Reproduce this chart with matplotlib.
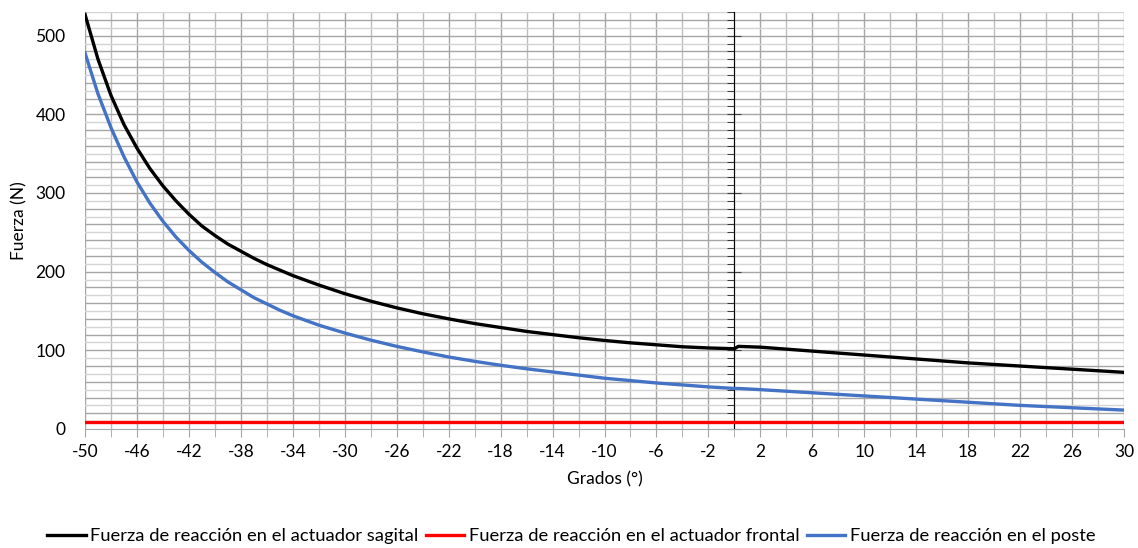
import matplotlib.pyplot as plt
from matplotlib.ticker import MultipleLocator

# angles (degrees) and forces (N)
grados = [-50, -49, -48, -47, -46, -45, -44, -43, -42, -41, -40, -39, -38, -37, -36, -35, -34,
          -32, -30, -28, -26, -24, -22, -20, -18, -16, -14, -12, -10, -8, -6, -4, -2, 0,
          0.3, 2, 4, 6, 8, 10, 12, 14, 16, 18, 20, 22, 24, 26, 28, 30]

sagital = [527, 470, 424, 387, 357, 331, 309, 290, 273, 258, 246, 235, 226, 217, 209, 202, 195,
           183, 172, 162.5, 154, 146.5, 140, 134, 129, 124, 120, 116, 112.5, 109.5, 107, 104.5, 103, 102,
           105, 104, 101.5, 99, 96.5, 94, 91.5, 89, 86.5, 84, 82, 80, 78, 76, 74, 72]

frontal = [9] * len(grados)

poste = [478, 426, 383, 346, 314, 287, 264, 244, 227, 212, 199, 187, 177, 167, 159, 151, 144,
         132, 122, 113, 105, 98, 91.5, 86, 81, 76.5, 72.5, 68.5, 64.5, 61.5, 58.5, 56, 53.5, 51.5,
         51.5, 50, 48, 46, 44, 42, 40, 38, 36, 34, 32, 30, 28.5, 27, 25.5, 24]

etiquetas_x = [-50, -46, -42, -38, -34, -30, -26, -22, -18, -14, -10, -6, -2,
               2, 6, 10, 14, 18, 22, 26, 30]

plt.rcParams['font.family'] = ['Lato', 'DejaVu Sans']

fig = plt.figure(figsize=(11.38, 5.48), dpi=100)
ax = fig.add_axes([0.0747, 0.2172, 0.913, 0.7608])

ax.set_xlim(-50, 30)
ax.set_ylim(0, 530)

# grid
for x in range(-50, 31, 2):
    ax.axvline(x, color='#a6a6a6' if x % 4 == 2 else '#bdbdbd', lw=1, zorder=0)
for y in range(10, 531, 10):
    ax.axhline(y, color='#a6a6a6' if y % 20 == 0 else '#d4d4d4', lw=1, zorder=0)

ax.plot(grados, sagital, color='black', lw=2.4, label='Fuerza de reacción en el actuador sagital', zorder=3)
ax.plot(grados, frontal, color='#ff0000', lw=2.4, label='Fuerza de reacción en el actuador frontal', zorder=3)
ax.plot(grados, poste, color='#4472c4', lw=2.4, label='Fuerza de reacción en el poste', zorder=3)

for s in ['top', 'right', 'left']:
    ax.spines[s].set_visible(False)
ax.spines['bottom'].set_color('#a6a6a6')

ax.set_xticks(etiquetas_x)
ax.set_xticklabels([str(v) for v in etiquetas_x])
ax.xaxis.set_minor_locator(MultipleLocator(2))
ax.tick_params(axis='x', which='both', direction='out', length=6, color='#a6a6a6',
               labelsize=12.5, pad=5)
ax.set_yticks([0, 100, 200, 300, 400, 500])
ax.tick_params(axis='y', length=0, labelsize=12.5, pad=14)

# vertical axis crossing at x = 0
sec = ax.secondary_yaxis(50 / 80)
sec.set_yticks([0, 100, 200, 300, 400, 500])
sec.set_yticklabels([])
sec.yaxis.set_minor_locator(MultipleLocator(10))
sec.tick_params(which='major', direction='inout', length=10, color='#404040',
                labelleft=False, labelright=False)
sec.tick_params(which='minor', direction='in', length=5, color='#202020')
sec.spines['left'].set_color('#404040')
sec.spines['left'].set_linewidth(1.5)

ax.set_xlabel('Grados (°)', fontsize=12.5, labelpad=8)
ax.set_ylabel('Fuerza (N)', fontsize=12.5, labelpad=6)

fig.legend(loc='center', bbox_to_anchor=(0.502, 0.021), ncol=3, frameon=False,
           fontsize=13.2, handlelength=2.1, handletextpad=0.25, columnspacing=0.4)

plt.savefig('out.png', dpi=100)
